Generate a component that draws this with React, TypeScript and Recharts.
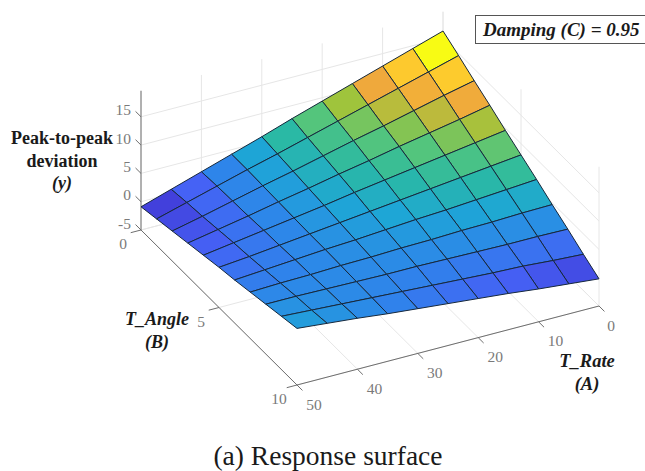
import React from 'react'
import { ScatterChart, Scatter, XAxis, YAxis } from 'recharts'

const WIDTH = 645
const HEIGHT = 471

// Sampled surface: rows follow T_Angle, columns follow T_Rate
const RATE_GRID = [0, 5, 10, 15, 20, 25, 30, 35, 40, 45, 50]
const ANGLE_GRID = [0, 1, 2, 3, 4, 5, 6, 7, 8, 9, 10]
const DEVIATION = [
  [16.2, 14.5, 12.8, 11.1, 9.4, 7.7, 5.9, 4.2, 2.5, 0.8, -0.9],
  [14.6, 13.1, 11.6, 10.1, 8.6, 7.1, 5.6, 4.2, 2.7, 1.2, -0.3],
  [12.9, 11.7, 10.4, 9.1, 7.9, 6.6, 5.3, 4.1, 2.8, 1.5, 0.3],
  [11.3, 10.2, 9.2, 8.2, 7.1, 6.1, 5.0, 4.0, 2.9, 1.9, 0.9],
  [9.6, 8.8, 8.0, 7.2, 6.4, 5.6, 4.7, 3.9, 3.1, 2.3, 1.5],
  [8.0, 7.4, 6.8, 6.2, 5.6, 5.0, 4.4, 3.8, 3.2, 2.6, 2.1],
  [6.4, 6.0, 5.6, 5.2, 4.9, 4.5, 4.1, 3.8, 3.4, 3.0, 2.6],
  [4.7, 4.6, 4.4, 4.3, 4.1, 4.0, 3.8, 3.7, 3.5, 3.4, 3.2],
  [3.1, 3.2, 3.2, 3.3, 3.4, 3.5, 3.5, 3.6, 3.7, 3.8, 3.8],
  [1.4, 1.7, 2.1, 2.3, 2.6, 2.9, 3.2, 3.5, 3.8, 4.1, 4.4],
  [-0.2, 0.3, 0.8, 1.4, 1.9, 2.4, 2.9, 3.4, 4.0, 4.5, 5.0],
]

const RATE_TICKS = [0, 10, 20, 30, 40, 50]
const ANGLE_TICKS = [0, 5, 10]
const DEV_TICKS = [-5, 0, 5, 10, 15]
const DEV_MIN = -5
const DEV_MAX = 19.6

const PALETTE = [
  '#4240dc', '#4562f5', '#2e85ea', '#1ea6d6', '#2ab9a4',
  '#54c57c', '#9fc43c', '#efa93c', '#fdc92e', '#f8fb14',
]

// Orthographic view of the 3D box onto the page
const project = (rate: number, angle: number, dev: number) => ({
  x: 443 - 6.04 * rate + 15.6 * angle,
  y: 151 + 1.58 * rate + 15.5 * angle - 5.66 * (dev + 5),
})

const mix = (a: string, b: string, f: number) => {
  const ch = (c: string, i: number) => parseInt(c.slice(1 + i * 2, 3 + i * 2), 16)
  const parts = [0, 1, 2].map(i => Math.round(ch(a, i) + (ch(b, i) - ch(a, i)) * f))
  return `rgb(${parts.join(',')})`
}

const colorAt = (t: number) => {
  const p = Math.max(0, Math.min(1, t)) * (PALETTE.length - 1)
  const i = Math.min(Math.floor(p), PALETTE.length - 2)
  return mix(PALETTE[i], PALETTE[i + 1], p - i)
}

type Cell = { key: string; mean: number; corners: { x: number; y: number }[] }

const rawCells: Cell[] = []
for (let b = 0; b < ANGLE_GRID.length - 1; b++) {
  for (let a = 0; a < RATE_GRID.length - 1; a++) {
    const z = [DEVIATION[b][a], DEVIATION[b][a + 1], DEVIATION[b + 1][a + 1], DEVIATION[b + 1][a]]
    rawCells.push({
      key: `cell-${b}-${a}`,
      mean: z.reduce((s, v) => s + v, 0) / 4,
      corners: [
        project(RATE_GRID[a], ANGLE_GRID[b], z[0]),
        project(RATE_GRID[a + 1], ANGLE_GRID[b], z[1]),
        project(RATE_GRID[a + 1], ANGLE_GRID[b + 1], z[2]),
        project(RATE_GRID[a], ANGLE_GRID[b + 1], z[3]),
      ],
    })
  }
}
const meanLow = Math.min(...rawCells.map(c => c.mean))
const meanHigh = Math.max(...rawCells.map(c => c.mean))

// Box grid lines on the floor and the two back walls
const gridLines: { key: string; points: { x: number; y: number }[] }[] = []
RATE_TICKS.forEach(r => {
  gridLines.push({ key: `floor-r${r}`, points: [project(r, 0, DEV_MIN), project(r, 10, DEV_MIN)] })
  gridLines.push({ key: `wall-r${r}`, points: [project(r, 0, DEV_MIN), project(r, 0, DEV_MAX)] })
})
ANGLE_TICKS.forEach(b => {
  gridLines.push({ key: `floor-a${b}`, points: [project(0, b, DEV_MIN), project(50, b, DEV_MIN)] })
  gridLines.push({ key: `wall-a${b}`, points: [project(0, b, DEV_MIN), project(0, b, DEV_MAX)] })
})
DEV_TICKS.forEach(d => {
  gridLines.push({ key: `wall1-d${d}`, points: [project(50, 0, d), project(0, 0, d)] })
  gridLines.push({ key: `wall2-d${d}`, points: [project(0, 0, d), project(0, 10, d)] })
})

// Axis rules and their tick marks
const axisLines: { key: string; points: { x: number; y: number }[] }[] = [
  { key: 'axis-z', points: [project(50, 0, DEV_MIN), project(50, 0, DEV_MAX)] },
  { key: 'axis-b', points: [project(50, 0, DEV_MIN), project(50, 10, DEV_MIN)] },
  { key: 'axis-a', points: [project(50, 10, DEV_MIN), project(0, 10, DEV_MIN)] },
]
RATE_TICKS.forEach(r => axisLines.push({ key: `tick-r${r}`, points: [project(r, 10, DEV_MIN), project(r, 10.35, DEV_MIN)] }))
ANGLE_TICKS.forEach(b => axisLines.push({ key: `tick-a${b}`, points: [project(50, b, DEV_MIN), project(51.7, b, DEV_MIN)] }))
DEV_TICKS.forEach(d => axisLines.push({ key: `tick-d${d}`, points: [project(50, 0, d), project(50, -0.35, d)] }))

const tickLabels = [
  ...RATE_TICKS.map(r => ({ ...project(r, 10, DEV_MIN), label: String(r), dx: r === 0 ? 12 : 17, dy: 19, anchor: 'middle' })),
  ...ANGLE_TICKS.map(b => ({ ...project(50, b, DEV_MIN), label: String(b), dx: -18, dy: 13.5, anchor: 'middle' })),
  ...DEV_TICKS.map(d => ({ ...project(50, 0, d), label: String(d), dx: -10, dy: -7, anchor: 'end' })),
]

const polygonLine = (fill: string) => (props: any) => (
  <path
    d={`M${props.points.map((p: any) => `${p.x},${p.y}`).join('L')}Z`}
    fill={fill}
    stroke="#16283c"
    strokeWidth={1}
    strokeLinejoin="round"
  />
)

const plainLine = (stroke: string, strokeWidth: number) => (props: any) => (
  <path d={`M${props.points.map((p: any) => `${p.x},${p.y}`).join('L')}`} fill="none" stroke={stroke} strokeWidth={strokeWidth} />
)

const NoDot = () => <g />

const TickLabel = (props: any) => {
  const { cx, cy, payload } = props
  return (
    <text
      x={cx + payload.dx}
      y={cy + payload.dy}
      textAnchor={payload.anchor}
      dominantBaseline="central"
      fontFamily="'Liberation Serif', serif"
      fontSize={15.5}
      fill="#7a7a7a"
    >
      {payload.label}
    </text>
  )
}

const serif = "'Liberation Serif', serif"

export default function App() {
  return (
    <div style={{ position: 'absolute', left: 0, top: 0, width: WIDTH, height: HEIGHT, background: '#fff' }}>
      <ScatterChart width={WIDTH} height={HEIGHT} margin={{ top: 0, right: 0, bottom: 0, left: 0 }}>
        <XAxis type="number" dataKey="x" domain={[0, WIDTH]} hide />
        <YAxis type="number" dataKey="y" domain={[0, HEIGHT]} reversed hide />

        {gridLines.map(g => (
          <Scatter key={g.key} data={g.points} line={plainLine('#e6e6e6', 1)} shape={NoDot} isAnimationActive={false} />
        ))}
        {axisLines.map(g => (
          <Scatter key={g.key} data={g.points} line={plainLine('#6e6e6e', 1)} shape={NoDot} isAnimationActive={false} />
        ))}
        {rawCells.map(c => (
          <Scatter
            key={c.key}
            data={c.corners}
            line={polygonLine(colorAt((c.mean - meanLow) / (meanHigh - meanLow)))}
            shape={NoDot}
            isAnimationActive={false}
          />
        ))}
        <Scatter data={tickLabels} shape={TickLabel} isAnimationActive={false} />

        <g fontFamily={serif} fill="#1a1a1a" textAnchor="middle">
          <text x={62} y={144} fontSize={18} fontWeight="bold">Peak-to-peak</text>
          <text x={62} y={167} fontSize={18} fontWeight="bold">deviation</text>
          <text x={62} y={189} fontSize={18} fontWeight="bold" fontStyle="italic">(y)</text>
          <text x={157} y={325} fontSize={18} fontWeight="bold" fontStyle="italic">T_Angle</text>
          <text x={157} y={348} fontSize={18} fontWeight="bold" fontStyle="italic">(B)</text>
          <text x={587} y={367} fontSize={18.5} fontWeight="bold" fontStyle="italic">T_Rate</text>
          <text x={587} y={390} fontSize={18.5} fontWeight="bold" fontStyle="italic">(A)</text>
          <text x={328} y={465} fontSize={27.5} fontWeight="normal">(a) Response surface</text>
        </g>
        <rect x={475.5} y={15.5} width={175} height={28} fill="#fff" stroke="#555" strokeWidth={1} />
        <text x={483} y={36} fontFamily={serif} fontSize={19} fontWeight="bold" fontStyle="italic" fill="#1a1a1a">
          Damping (C) = 0.95
        </text>
      </ScatterChart>
    </div>
  )
}
